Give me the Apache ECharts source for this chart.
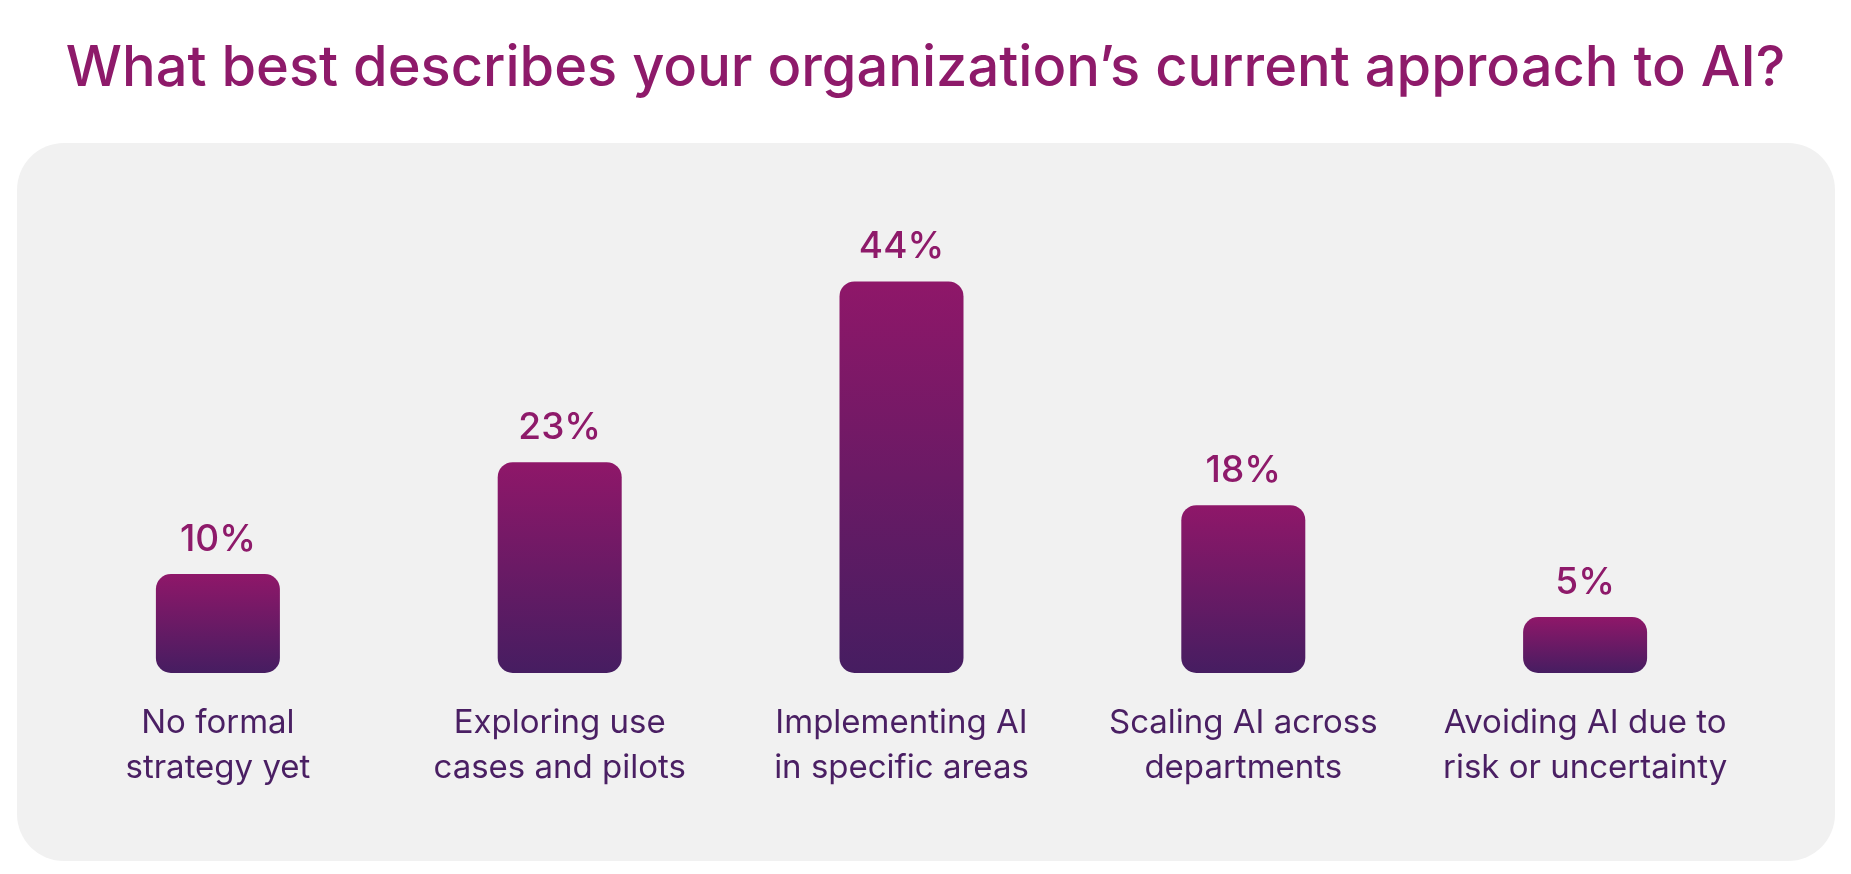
<!DOCTYPE html>
<html>
<head>
<meta charset="utf-8">
<script src="https://cdn.jsdelivr.net/npm/echarts@6/dist/echarts.min.js"></script>
<style>
html,body{margin:0;padding:0;background:#ffffff;}
#chart{width:1851px;height:874px;}
</style>
</head>
<body>
<div id="chart"></div>
<script>
const categories = [
  'No formal\nstrategy yet',
  'Exploring use\ncases and pilots',
  'Implementing AI\nin specific areas',
  'Scaling AI across\ndepartments',
  'Avoiding AI due to\nrisk or uncertainty'
];
const values = [10, 23, 44, 18, 5];
const titleText = 'What best describes your organization\u2019s current approach to AI?';

const font = 'Inter';
const Y_MIN = -1.5;
const Y_MAX = 48;
const BAR_W = 124;

const chart = echarts.init(document.getElementById('chart'));

function renderBar(params, api) {
  const cat = api.value(0);
  const val = api.value(1);
  const top = api.coord([cat, val]);
  const base = api.coord([cat, Y_MIN]);
  const h = base[1] - top[1];
  return {
    type: 'group',
    children: [
      {
        type: 'rect',
        shape: { x: top[0] - BAR_W / 2, y: top[1], width: BAR_W, height: h, r: 15 },
        style: {
          fill: new echarts.graphic.LinearGradient(0, 0, 0, 1, [
            { offset: 0, color: '#8f1769' },
            { offset: 1, color: '#461d61' }
          ])
        }
      },
      {
        type: 'text',
        style: {
          text: val + '%',
          x: top[0],
          y: top[1] - 16,
          align: 'center',
          verticalAlign: 'bottom',
          fontFamily: font,
          fontSize: 37,
          fontWeight: 500,
          fill: '#8e1a6a'
        }
      }
    ]
  };
}

chart.setOption({
  backgroundColor: '#ffffff',
  animation: false,
  title: {
    text: titleText,
    left: 'center',
    top: 36,
    textStyle: { fontFamily: font, fontSize: 56, fontWeight: 500, color: '#8e1a6a' }
  },
  graphic: [{
    type: 'rect',
    z: -10,
    shape: { x: 17, y: 143, width: 1818, height: 718, r: 47 },
    style: { fill: '#f1f1f1' }
  }],
  grid: { left: 47, right: 95, top: 247, height: 426 },
  xAxis: {
    type: 'category',
    data: categories,
    axisLine: { show: false },
    axisTick: { show: false },
    axisLabel: {
      margin: 28,
      fontFamily: font,
      fontSize: 33,
      lineHeight: 45,
      color: '#4a1f63',
      interval: 0
    }
  },
  yAxis: {
    type: 'value',
    min: Y_MIN,
    max: Y_MAX,
    show: false,
    splitLine: { show: false }
  },
  series: [{
    type: 'custom',
    renderItem: renderBar,
    encode: { x: 0, y: 1 },
    data: values.map((v, i) => [i, v])
  }]
});
</script>
</body>
</html>
